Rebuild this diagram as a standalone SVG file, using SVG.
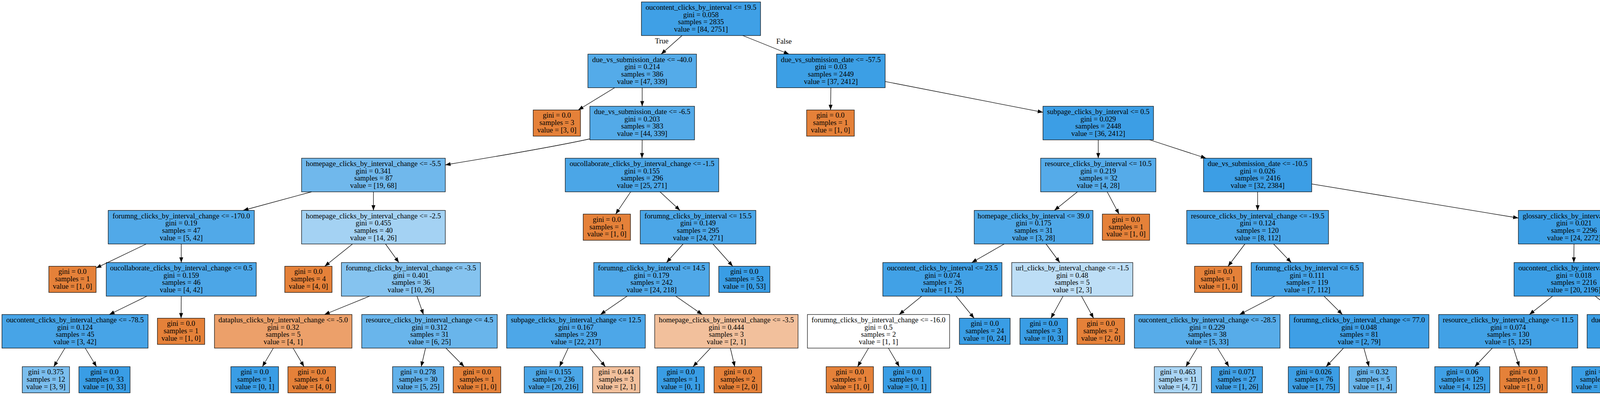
<svg xmlns="http://www.w3.org/2000/svg" width="5012" height="1011" viewBox="0 0 5012 1011">
<style>
.box{stroke:#000;stroke-width:1.2}
.o{fill:#e58139}
.b{fill:#399de5}
.t{font-family:"Liberation Serif","Times New Roman",serif;font-size:18.67px;text-anchor:middle;fill:#000}
.e{stroke:#000;stroke-width:1.3;fill:none;marker-end:url(#ah)}
</style>
<defs>
<marker id="ah" markerUnits="userSpaceOnUse" markerWidth="13.3" markerHeight="10" viewBox="0 0 13.3 10" refX="13.3" refY="5" orient="auto" overflow="visible">
<path d="M0,0 L13.3,5 L0,10 z" fill="#000"/>
</marker>
</defs>
<rect width="5012" height="1011" fill="#fff"/>
<g id="nodes">
<g id="n0"><rect class="box" x="1642" y="5" width="305" height="86" fill="#3fa0e6"/><text class="t" y="25"><tspan x="1794.5">oucontent_clicks_by_interval &lt;= 19.5</tspan><tspan x="1794.5" dy="18.67">gini = 0.058</tspan><tspan x="1794.5" dy="18.67">samples = 2835</tspan><tspan x="1794.5" dy="18.67">value = [84, 2751]</tspan></text></g>
<g id="n1"><rect class="box" x="1505" y="138.5" width="278" height="86" fill="#54abe9"/><text class="t" y="158.5"><tspan x="1644">due_vs_submission_date &lt;= -40.0</tspan><tspan x="1644" dy="18.67">gini = 0.214</tspan><tspan x="1644" dy="18.67">samples = 386</tspan><tspan x="1644" dy="18.67">value = [47, 339]</tspan></text></g>
<g id="n2"><rect class="box" x="1988" y="138.5" width="278" height="86" fill="#3c9fe5"/><text class="t" y="158.5"><tspan x="2127">due_vs_submission_date &lt;= -57.5</tspan><tspan x="2127" dy="18.67">gini = 0.03</tspan><tspan x="2127" dy="18.67">samples = 2449</tspan><tspan x="2127" dy="18.67">value = [37, 2412]</tspan></text></g>
<g id="n3"><rect class="box o" x="1365" y="281.5" width="121" height="67"/><text class="t" y="301.33"><tspan x="1425.5">gini = 0.0</tspan><tspan x="1425.5" dy="18.67">samples = 3</tspan><tspan x="1425.5" dy="18.67">value = [3, 0]</tspan></text></g>
<g id="n4"><rect class="box" x="1510" y="272" width="268" height="86" fill="#53aae8"/><text class="t" y="292"><tspan x="1644">due_vs_submission_date &lt;= -6.5</tspan><tspan x="1644" dy="18.67">gini = 0.203</tspan><tspan x="1644" dy="18.67">samples = 383</tspan><tspan x="1644" dy="18.67">value = [44, 339]</tspan></text></g>
<g id="n5"><rect class="box o" x="2065" y="281.5" width="122" height="67"/><text class="t" y="301.33"><tspan x="2126">gini = 0.0</tspan><tspan x="2126" dy="18.67">samples = 1</tspan><tspan x="2126" dy="18.67">value = [1, 0]</tspan></text></g>
<g id="n6"><rect class="box" x="2670" y="272" width="283" height="86" fill="#3c9ee5"/><text class="t" y="292"><tspan x="2811.5">subpage_clicks_by_interval &lt;= 0.5</tspan><tspan x="2811.5" dy="18.67">gini = 0.029</tspan><tspan x="2811.5" dy="18.67">samples = 2448</tspan><tspan x="2811.5" dy="18.67">value = [36, 2412]</tspan></text></g>
<g id="n7"><rect class="box" x="772" y="405" width="368" height="86" fill="#70b8ec"/><text class="t" y="425"><tspan x="956">homepage_clicks_by_interval_change &lt;= -5.5</tspan><tspan x="956" dy="18.67">gini = 0.341</tspan><tspan x="956" dy="18.67">samples = 87</tspan><tspan x="956" dy="18.67">value = [19, 68]</tspan></text></g>
<g id="n8"><rect class="box" x="1447" y="405" width="393" height="86" fill="#4ba6e7"/><text class="t" y="425"><tspan x="1643.5">oucollaborate_clicks_by_interval_change &lt;= -1.5</tspan><tspan x="1643.5" dy="18.67">gini = 0.155</tspan><tspan x="1643.5" dy="18.67">samples = 296</tspan><tspan x="1643.5" dy="18.67">value = [25, 271]</tspan></text></g>
<g id="n9"><rect class="box" x="2664" y="405" width="295" height="86" fill="#55abe9"/><text class="t" y="425"><tspan x="2811.5">resource_clicks_by_interval &lt;= 10.5</tspan><tspan x="2811.5" dy="18.67">gini = 0.219</tspan><tspan x="2811.5" dy="18.67">samples = 32</tspan><tspan x="2811.5" dy="18.67">value = [4, 28]</tspan></text></g>
<g id="n10"><rect class="box" x="3081" y="405" width="277" height="86" fill="#3c9ee5"/><text class="t" y="425"><tspan x="3219.5">due_vs_submission_date &lt;= -10.5</tspan><tspan x="3219.5" dy="18.67">gini = 0.026</tspan><tspan x="3219.5" dy="18.67">samples = 2416</tspan><tspan x="3219.5" dy="18.67">value = [32, 2384]</tspan></text></g>
<g id="n11"><rect class="box" x="277" y="538.5" width="374" height="86" fill="#51a9e8"/><text class="t" y="558.5"><tspan x="464">forumng_clicks_by_interval_change &lt;= -170.0</tspan><tspan x="464" dy="18.67">gini = 0.19</tspan><tspan x="464" dy="18.67">samples = 47</tspan><tspan x="464" dy="18.67">value = [5, 42]</tspan></text></g>
<g id="n12"><rect class="box" x="772" y="538.5" width="368" height="86" fill="#a4d2f3"/><text class="t" y="558.5"><tspan x="956">homepage_clicks_by_interval_change &lt;= -2.5</tspan><tspan x="956" dy="18.67">gini = 0.455</tspan><tspan x="956" dy="18.67">samples = 40</tspan><tspan x="956" dy="18.67">value = [14, 26]</tspan></text></g>
<g id="n13"><rect class="box o" x="1493" y="548" width="121" height="67"/><text class="t" y="567.83"><tspan x="1553.5">gini = 0.0</tspan><tspan x="1553.5" dy="18.67">samples = 1</tspan><tspan x="1553.5" dy="18.67">value = [1, 0]</tspan></text></g>
<g id="n14"><rect class="box" x="1639" y="538.5" width="296" height="86" fill="#4ba6e7"/><text class="t" y="558.5"><tspan x="1787">forumng_clicks_by_interval &lt;= 15.5</tspan><tspan x="1787" dy="18.67">gini = 0.149</tspan><tspan x="1787" dy="18.67">samples = 295</tspan><tspan x="1787" dy="18.67">value = [24, 271]</tspan></text></g>
<g id="n15"><rect class="box" x="2494" y="538.5" width="304" height="86" fill="#4ea8e8"/><text class="t" y="558.5"><tspan x="2646">homepage_clicks_by_interval &lt;= 39.0</tspan><tspan x="2646" dy="18.67">gini = 0.175</tspan><tspan x="2646" dy="18.67">samples = 31</tspan><tspan x="2646" dy="18.67">value = [3, 28]</tspan></text></g>
<g id="n16"><rect class="box o" x="2822" y="548" width="121" height="67"/><text class="t" y="567.83"><tspan x="2882.5">gini = 0.0</tspan><tspan x="2882.5" dy="18.67">samples = 1</tspan><tspan x="2882.5" dy="18.67">value = [1, 0]</tspan></text></g>
<g id="n17"><rect class="box" x="3038" y="538.5" width="363" height="86" fill="#47a4e7"/><text class="t" y="558.5"><tspan x="3219.5">resource_clicks_by_interval_change &lt;= -19.5</tspan><tspan x="3219.5" dy="18.67">gini = 0.124</tspan><tspan x="3219.5" dy="18.67">samples = 120</tspan><tspan x="3219.5" dy="18.67">value = [8, 112]</tspan></text></g>
<g id="n18"><rect class="box" x="3887" y="538.5" width="285" height="86" fill="#3b9ee5"/><text class="t" y="558.5"><tspan x="4029.5">glossary_clicks_by_interval &lt;= 0.5</tspan><tspan x="4029.5" dy="18.67">gini = 0.021</tspan><tspan x="4029.5" dy="18.67">samples = 2296</tspan><tspan x="4029.5" dy="18.67">value = [24, 2272]</tspan></text></g>
<g id="n19"><rect class="box o" x="125" y="681.5" width="121" height="67"/><text class="t" y="701.33"><tspan x="185.5">gini = 0.0</tspan><tspan x="185.5" dy="18.67">samples = 1</tspan><tspan x="185.5" dy="18.67">value = [1, 0]</tspan></text></g>
<g id="n20"><rect class="box" x="272" y="672" width="384" height="86" fill="#4ca6e7"/><text class="t" y="692"><tspan x="464">oucollaborate_clicks_by_interval_change &lt;= 0.5</tspan><tspan x="464" dy="18.67">gini = 0.159</tspan><tspan x="464" dy="18.67">samples = 46</tspan><tspan x="464" dy="18.67">value = [4, 42]</tspan></text></g>
<g id="n21"><rect class="box o" x="729" y="681.5" width="121" height="67"/><text class="t" y="701.33"><tspan x="789.5">gini = 0.0</tspan><tspan x="789.5" dy="18.67">samples = 4</tspan><tspan x="789.5" dy="18.67">value = [4, 0]</tspan></text></g>
<g id="n22"><rect class="box" x="874" y="672" width="356" height="86" fill="#85c3ef"/><text class="t" y="692"><tspan x="1052">forumng_clicks_by_interval_change &lt;= -3.5</tspan><tspan x="1052" dy="18.67">gini = 0.401</tspan><tspan x="1052" dy="18.67">samples = 36</tspan><tspan x="1052" dy="18.67">value = [10, 26]</tspan></text></g>
<g id="n23"><rect class="box" x="1520" y="672" width="296" height="86" fill="#4fa8e8"/><text class="t" y="692"><tspan x="1668">forumng_clicks_by_interval &lt;= 14.5</tspan><tspan x="1668" dy="18.67">gini = 0.179</tspan><tspan x="1668" dy="18.67">samples = 242</tspan><tspan x="1668" dy="18.67">value = [24, 218]</tspan></text></g>
<g id="n24"><rect class="box b" x="1840" y="681.5" width="131" height="67"/><text class="t" y="701.33"><tspan x="1905.5">gini = 0.0</tspan><tspan x="1905.5" dy="18.67">samples = 53</tspan><tspan x="1905.5" dy="18.67">value = [0, 53]</tspan></text></g>
<g id="n25"><rect class="box" x="2260" y="672" width="305" height="86" fill="#41a1e6"/><text class="t" y="692"><tspan x="2412.5">oucontent_clicks_by_interval &lt;= 23.5</tspan><tspan x="2412.5" dy="18.67">gini = 0.074</tspan><tspan x="2412.5" dy="18.67">samples = 26</tspan><tspan x="2412.5" dy="18.67">value = [1, 25]</tspan></text></g>
<g id="n26"><rect class="box" x="2590" y="672" width="310" height="86" fill="#bddef6"/><text class="t" y="692"><tspan x="2745">url_clicks_by_interval_change &lt;= -1.5</tspan><tspan x="2745" dy="18.67">gini = 0.48</tspan><tspan x="2745" dy="18.67">samples = 5</tspan><tspan x="2745" dy="18.67">value = [2, 3]</tspan></text></g>
<g id="n27"><rect class="box o" x="3058" y="681.5" width="121" height="67"/><text class="t" y="701.33"><tspan x="3118.5">gini = 0.0</tspan><tspan x="3118.5" dy="18.67">samples = 1</tspan><tspan x="3118.5" dy="18.67">value = [1, 0]</tspan></text></g>
<g id="n28"><rect class="box" x="3203" y="672" width="287" height="86" fill="#45a3e7"/><text class="t" y="692"><tspan x="3346.5">forumng_clicks_by_interval &lt;= 6.5</tspan><tspan x="3346.5" dy="18.67">gini = 0.111</tspan><tspan x="3346.5" dy="18.67">samples = 119</tspan><tspan x="3346.5" dy="18.67">value = [7, 112]</tspan></text></g>
<g id="n29"><rect class="box" x="3876" y="672" width="306" height="86" fill="#3b9ee5"/><text class="t" y="692"><tspan x="4029">oucontent_clicks_by_interval &lt;= 29.5</tspan><tspan x="4029" dy="18.67">gini = 0.018</tspan><tspan x="4029" dy="18.67">samples = 2216</tspan><tspan x="4029" dy="18.67">value = [20, 2196]</tspan></text></g>
<g id="n30"><rect class="box" x="4382" y="672" width="267" height="86" fill="#43a2e6"/><text class="t" y="692"><tspan x="4515.5">due_vs_submission_date &lt;= -2.5</tspan><tspan x="4515.5" dy="18.67">gini = 0.095</tspan><tspan x="4515.5" dy="18.67">samples = 80</tspan><tspan x="4515.5" dy="18.67">value = [4, 76]</tspan></text></g>
<g id="n31"><rect class="box" x="5" y="805" width="374" height="86" fill="#47a4e7"/><text class="t" y="825"><tspan x="192">oucontent_clicks_by_interval_change &lt;= -78.5</tspan><tspan x="192" dy="18.67">gini = 0.124</tspan><tspan x="192" dy="18.67">samples = 45</tspan><tspan x="192" dy="18.67">value = [3, 42]</tspan></text></g>
<g id="n32"><rect class="box o" x="403" y="814.5" width="121" height="67"/><text class="t" y="834.33"><tspan x="463.5">gini = 0.0</tspan><tspan x="463.5" dy="18.67">samples = 1</tspan><tspan x="463.5" dy="18.67">value = [1, 0]</tspan></text></g>
<g id="n33"><rect class="box" x="549" y="805" width="352" height="86" fill="#eca06a"/><text class="t" y="825"><tspan x="725">dataplus_clicks_by_interval_change &lt;= -5.0</tspan><tspan x="725" dy="18.67">gini = 0.32</tspan><tspan x="725" dy="18.67">samples = 5</tspan><tspan x="725" dy="18.67">value = [4, 1]</tspan></text></g>
<g id="n34"><rect class="box" x="926" y="805" width="347" height="86" fill="#69b5eb"/><text class="t" y="825"><tspan x="1099.5">resource_clicks_by_interval_change &lt;= 4.5</tspan><tspan x="1099.5" dy="18.67">gini = 0.312</tspan><tspan x="1099.5" dy="18.67">samples = 31</tspan><tspan x="1099.5" dy="18.67">value = [6, 25]</tspan></text></g>
<g id="n35"><rect class="box" x="1297" y="805" width="355" height="86" fill="#4da7e8"/><text class="t" y="825"><tspan x="1474.5">subpage_clicks_by_interval_change &lt;= 12.5</tspan><tspan x="1474.5" dy="18.67">gini = 0.167</tspan><tspan x="1474.5" dy="18.67">samples = 239</tspan><tspan x="1474.5" dy="18.67">value = [22, 217]</tspan></text></g>
<g id="n36"><rect class="box" x="1676" y="805" width="367" height="86" fill="#f2c09c"/><text class="t" y="825"><tspan x="1859.5">homepage_clicks_by_interval_change &lt;= -3.5</tspan><tspan x="1859.5" dy="18.67">gini = 0.444</tspan><tspan x="1859.5" dy="18.67">samples = 3</tspan><tspan x="1859.5" dy="18.67">value = [2, 1]</tspan></text></g>
<g id="n37"><rect class="box" x="2067" y="805" width="364" height="86" fill="#ffffff"/><text class="t" y="825"><tspan x="2249">forumng_clicks_by_interval_change &lt;= -16.0</tspan><tspan x="2249" dy="18.67">gini = 0.5</tspan><tspan x="2249" dy="18.67">samples = 2</tspan><tspan x="2249" dy="18.67">value = [1, 1]</tspan></text></g>
<g id="n38"><rect class="box b" x="2456" y="814.5" width="130" height="67"/><text class="t" y="834.33"><tspan x="2521">gini = 0.0</tspan><tspan x="2521" dy="18.67">samples = 24</tspan><tspan x="2521" dy="18.67">value = [0, 24]</tspan></text></g>
<g id="n39"><rect class="box b" x="2611" y="814.5" width="122" height="67"/><text class="t" y="834.33"><tspan x="2672">gini = 0.0</tspan><tspan x="2672" dy="18.67">samples = 3</tspan><tspan x="2672" dy="18.67">value = [0, 3]</tspan></text></g>
<g id="n40"><rect class="box o" x="2757" y="814.5" width="122" height="67"/><text class="t" y="834.33"><tspan x="2818">gini = 0.0</tspan><tspan x="2818" dy="18.67">samples = 2</tspan><tspan x="2818" dy="18.67">value = [2, 0]</tspan></text></g>
<g id="n41"><rect class="box" x="2904" y="805" width="373" height="86" fill="#57ace9"/><text class="t" y="825"><tspan x="3090.5">oucontent_clicks_by_interval_change &lt;= -28.5</tspan><tspan x="3090.5" dy="18.67">gini = 0.229</tspan><tspan x="3090.5" dy="18.67">samples = 38</tspan><tspan x="3090.5" dy="18.67">value = [5, 33]</tspan></text></g>
<g id="n42"><rect class="box" x="3301" y="805" width="357" height="86" fill="#3e9fe6"/><text class="t" y="825"><tspan x="3479.5">forumng_clicks_by_interval_change &lt;= 77.0</tspan><tspan x="3479.5" dy="18.67">gini = 0.048</tspan><tspan x="3479.5" dy="18.67">samples = 81</tspan><tspan x="3479.5" dy="18.67">value = [2, 79]</tspan></text></g>
<g id="n43"><rect class="box" x="3683" y="805" width="356" height="86" fill="#41a1e6"/><text class="t" y="825"><tspan x="3861">resource_clicks_by_interval_change &lt;= 11.5</tspan><tspan x="3861" dy="18.67">gini = 0.074</tspan><tspan x="3861" dy="18.67">samples = 130</tspan><tspan x="3861" dy="18.67">value = [5, 125]</tspan></text></g>
<g id="n44"><rect class="box" x="4063" y="805" width="271" height="86" fill="#3a9ee5"/><text class="t" y="825"><tspan x="4198.5">due_vs_submission_date &lt;= 31.5</tspan><tspan x="4198.5" dy="18.67">gini = 0.014</tspan><tspan x="4198.5" dy="18.67">samples = 2086</tspan><tspan x="4198.5" dy="18.67">value = [15, 2071]</tspan></text></g>
<g id="n45"><rect class="box" x="4359" y="805" width="314" height="86" fill="#61b1ea"/><text class="t" y="825"><tspan x="4516">oucontent_clicks_by_interval &lt;= 250.5</tspan><tspan x="4516" dy="18.67">gini = 0.278</tspan><tspan x="4516" dy="18.67">samples = 18</tspan><tspan x="4516" dy="18.67">value = [3, 15]</tspan></text></g>
<g id="n46"><rect class="box" x="4698" y="805" width="309" height="86" fill="#3c9fe5"/><text class="t" y="825"><tspan x="4852.5">homepage_clicks_by_interval &lt;= 20.5</tspan><tspan x="4852.5" dy="18.67">gini = 0.032</tspan><tspan x="4852.5" dy="18.67">samples = 62</tspan><tspan x="4852.5" dy="18.67">value = [1, 61]</tspan></text></g>
<g id="n47"><rect class="box" x="57" y="938.5" width="121" height="67" fill="#7bbeee"/><text class="t" y="958.33"><tspan x="117.5">gini = 0.375</tspan><tspan x="117.5" dy="18.67">samples = 12</tspan><tspan x="117.5" dy="18.67">value = [3, 9]</tspan></text></g>
<g id="n48"><rect class="box b" x="202" y="938.5" width="131" height="67"/><text class="t" y="958.33"><tspan x="267.5">gini = 0.0</tspan><tspan x="267.5" dy="18.67">samples = 33</tspan><tspan x="267.5" dy="18.67">value = [0, 33]</tspan></text></g>
<g id="n49"><rect class="box b" x="591" y="938.5" width="122" height="67"/><text class="t" y="958.33"><tspan x="652">gini = 0.0</tspan><tspan x="652" dy="18.67">samples = 1</tspan><tspan x="652" dy="18.67">value = [0, 1]</tspan></text></g>
<g id="n50"><rect class="box o" x="737" y="938.5" width="122" height="67"/><text class="t" y="958.33"><tspan x="798">gini = 0.0</tspan><tspan x="798" dy="18.67">samples = 4</tspan><tspan x="798" dy="18.67">value = [4, 0]</tspan></text></g>
<g id="n51"><rect class="box" x="1005" y="938.5" width="131" height="67" fill="#61b1ea"/><text class="t" y="958.33"><tspan x="1070.5">gini = 0.278</tspan><tspan x="1070.5" dy="18.67">samples = 30</tspan><tspan x="1070.5" dy="18.67">value = [5, 25]</tspan></text></g>
<g id="n52"><rect class="box o" x="1160" y="938.5" width="122" height="67"/><text class="t" y="958.33"><tspan x="1221">gini = 0.0</tspan><tspan x="1221" dy="18.67">samples = 1</tspan><tspan x="1221" dy="18.67">value = [1, 0]</tspan></text></g>
<g id="n53"><rect class="box" x="1342" y="938.5" width="150" height="67" fill="#4ba6e7"/><text class="t" y="958.33"><tspan x="1417">gini = 0.155</tspan><tspan x="1417" dy="18.67">samples = 236</tspan><tspan x="1417" dy="18.67">value = [20, 216]</tspan></text></g>
<g id="n54"><rect class="box" x="1517" y="938.5" width="121" height="67" fill="#f2c09c"/><text class="t" y="958.33"><tspan x="1577.5">gini = 0.444</tspan><tspan x="1577.5" dy="18.67">samples = 3</tspan><tspan x="1577.5" dy="18.67">value = [2, 1]</tspan></text></g>
<g id="n55"><rect class="box b" x="1682" y="938.5" width="121" height="67"/><text class="t" y="958.33"><tspan x="1742.5">gini = 0.0</tspan><tspan x="1742.5" dy="18.67">samples = 1</tspan><tspan x="1742.5" dy="18.67">value = [0, 1]</tspan></text></g>
<g id="n56"><rect class="box o" x="1828" y="938.5" width="122" height="67"/><text class="t" y="958.33"><tspan x="1889">gini = 0.0</tspan><tspan x="1889" dy="18.67">samples = 2</tspan><tspan x="1889" dy="18.67">value = [2, 0]</tspan></text></g>
<g id="n57"><rect class="box o" x="2115" y="938.5" width="121" height="67"/><text class="t" y="958.33"><tspan x="2175.5">gini = 0.0</tspan><tspan x="2175.5" dy="18.67">samples = 1</tspan><tspan x="2175.5" dy="18.67">value = [1, 0]</tspan></text></g>
<g id="n58"><rect class="box b" x="2261" y="938.5" width="122" height="67"/><text class="t" y="958.33"><tspan x="2322">gini = 0.0</tspan><tspan x="2322" dy="18.67">samples = 1</tspan><tspan x="2322" dy="18.67">value = [0, 1]</tspan></text></g>
<g id="n59"><rect class="box" x="2955" y="938.5" width="121" height="67" fill="#aad5f4"/><text class="t" y="958.33"><tspan x="3015.5">gini = 0.463</tspan><tspan x="3015.5" dy="18.67">samples = 11</tspan><tspan x="3015.5" dy="18.67">value = [4, 7]</tspan></text></g>
<g id="n60"><rect class="box" x="3101" y="938.5" width="131" height="67" fill="#41a1e6"/><text class="t" y="958.33"><tspan x="3166.5">gini = 0.071</tspan><tspan x="3166.5" dy="18.67">samples = 27</tspan><tspan x="3166.5" dy="18.67">value = [1, 26]</tspan></text></g>
<g id="n61"><rect class="box" x="3298" y="938.5" width="131" height="67" fill="#3c9ee5"/><text class="t" y="958.33"><tspan x="3363.5">gini = 0.026</tspan><tspan x="3363.5" dy="18.67">samples = 76</tspan><tspan x="3363.5" dy="18.67">value = [1, 75]</tspan></text></g>
<g id="n62"><rect class="box" x="3453" y="938.5" width="122" height="67" fill="#6ab6ec"/><text class="t" y="958.33"><tspan x="3514">gini = 0.32</tspan><tspan x="3514" dy="18.67">samples = 5</tspan><tspan x="3514" dy="18.67">value = [1, 4]</tspan></text></g>
<g id="n63"><rect class="box" x="3673" y="938.5" width="141" height="67" fill="#3fa0e6"/><text class="t" y="958.33"><tspan x="3743.5">gini = 0.06</tspan><tspan x="3743.5" dy="18.67">samples = 129</tspan><tspan x="3743.5" dy="18.67">value = [4, 125]</tspan></text></g>
<g id="n64"><rect class="box o" x="3839" y="938.5" width="122" height="67"/><text class="t" y="958.33"><tspan x="3900">gini = 0.0</tspan><tspan x="3900" dy="18.67">samples = 1</tspan><tspan x="3900" dy="18.67">value = [1, 0]</tspan></text></g>
<g id="n65"><rect class="box" x="4024" y="938.5" width="159" height="67" fill="#3a9ee5"/><text class="t" y="958.33"><tspan x="4103.5">gini = 0.013</tspan><tspan x="4103.5" dy="18.67">samples = 2074</tspan><tspan x="4103.5" dy="18.67">value = [14, 2060]</tspan></text></g>
<g id="n66"><rect class="box" x="4208" y="938.5" width="131" height="67" fill="#4ba6e7"/><text class="t" y="958.33"><tspan x="4273.5">gini = 0.153</tspan><tspan x="4273.5" dy="18.67">samples = 12</tspan><tspan x="4273.5" dy="18.67">value = [1, 11]</tspan></text></g>
<g id="n67"><rect class="box" x="4388" y="938.5" width="131" height="67" fill="#46a3e7"/><text class="t" y="958.33"><tspan x="4453.5">gini = 0.117</tspan><tspan x="4453.5" dy="18.67">samples = 16</tspan><tspan x="4453.5" dy="18.67">value = [1, 15]</tspan></text></g>
<g id="n68"><rect class="box o" x="4544" y="938.5" width="121" height="67"/><text class="t" y="958.33"><tspan x="4604.5">gini = 0.0</tspan><tspan x="4604.5" dy="18.67">samples = 2</tspan><tspan x="4604.5" dy="18.67">value = [2, 0]</tspan></text></g>
<g id="n69"><rect class="box" x="4702" y="938.5" width="122" height="67" fill="#7bbeee"/><text class="t" y="958.33"><tspan x="4763">gini = 0.375</tspan><tspan x="4763" dy="18.67">samples = 4</tspan><tspan x="4763" dy="18.67">value = [1, 3]</tspan></text></g>
<g id="n70"><rect class="box b" x="4848" y="938.5" width="130" height="67"/><text class="t" y="958.33"><tspan x="4913">gini = 0.0</tspan><tspan x="4913" dy="18.67">samples = 58</tspan><tspan x="4913" dy="18.67">value = [0, 58]</tspan></text></g>
</g>
<g id="connectors">
<line class="e" x1="1746" y1="91" x2="1692.5" y2="138.5"/>
<line class="e" x1="1901.6" y1="91" x2="2019.9" y2="138.5"/>
<text class="t" x="1694" y="111">True</text>
<text class="t" x="2007" y="112">False</text>
<line class="e" x1="1573.6" y1="224.5" x2="1480.3" y2="281.5"/>
<line class="e" x1="1644" y1="224.5" x2="1644" y2="272"/>
<line class="e" x1="2127" y1="224.5" x2="2126.2" y2="281.5"/>
<line class="e" x1="2266" y1="208.6" x2="2670" y2="287.4"/>
<path class="e" d="M1510,355.5 C1420,375 1250,404 1140,422"/>
<line class="e" x1="1644" y1="358" x2="1643.5" y2="405"/>
<line class="e" x1="2811.5" y1="358" x2="2811.5" y2="405"/>
<line class="e" x1="2943.4" y1="358" x2="3087.6" y2="405"/>
<line class="e" x1="797.5" y1="491" x2="622.5" y2="538.5"/>
<line class="e" x1="956" y1="491" x2="956" y2="538.5"/>
<line class="e" x1="1614.5" y1="491" x2="1576.1" y2="548"/>
<line class="e" x1="1689.7" y1="491" x2="1740.8" y2="538.5"/>
<line class="e" x1="2758.2" y1="491" x2="2699.3" y2="538.5"/>
<line class="e" x1="2834.4" y1="491" x2="2864.7" y2="548"/>
<line class="e" x1="3219.5" y1="491" x2="3219.5" y2="538.5"/>
<line class="e" x1="3358" y1="470.8" x2="3887" y2="558"/>
<line class="e" x1="374.3" y1="624.5" x2="246" y2="686"/>
<line class="e" x1="464" y1="624.5" x2="464" y2="672"/>
<line class="e" x1="902.4" y1="624.5" x2="831.3" y2="681.5"/>
<line class="e" x1="986.9" y1="624.5" x2="1021.1" y2="672"/>
<line class="e" x1="1748.7" y1="624.5" x2="1706.3" y2="672"/>
<line class="e" x1="1825.2" y1="624.5" x2="1875.8" y2="681.5"/>
<line class="e" x1="2570.8" y1="624.5" x2="2487.7" y2="672"/>
<line class="e" x1="2677.9" y1="624.5" x2="2713.1" y2="672"/>
<line class="e" x1="3187" y1="624.5" x2="3143.8" y2="681.5"/>
<line class="e" x1="3260.4" y1="624.5" x2="3305.6" y2="672"/>
<line class="e" x1="4029.5" y1="624.5" x2="4029" y2="672"/>
<line class="e" x1="4172" y1="620.6" x2="4382" y2="678.3"/>
<line class="e" x1="376.1" y1="758" x2="279.9" y2="805"/>
<line class="e" x1="464" y1="758" x2="463.5" y2="814.5"/>
<line class="e" x1="946.3" y1="758" x2="830.7" y2="805"/>
<line class="e" x1="1067.4" y1="758" x2="1084.1" y2="805"/>
<line class="e" x1="1605.4" y1="758" x2="1537.1" y2="805"/>
<line class="e" x1="1729.9" y1="758" x2="1797.6" y2="805"/>
<line class="e" x1="2359.6" y1="758" x2="2301.9" y2="805"/>
<line class="e" x1="2447.6" y1="758" x2="2493.7" y2="814.5"/>
<line class="e" x1="2721.4" y1="758" x2="2690.4" y2="814.5"/>
<line class="e" x1="2768.6" y1="758" x2="2799.6" y2="814.5"/>
<line class="e" x1="3263.7" y1="758" x2="3173.3" y2="805"/>
<line class="e" x1="3389.5" y1="758" x2="3436.5" y2="805"/>
<line class="e" x1="3974.7" y1="758" x2="3915.3" y2="805"/>
<line class="e" x1="4083.8" y1="758" x2="4143.7" y2="805"/>
<line class="e" x1="4515.5" y1="758" x2="4516" y2="805"/>
<line class="e" x1="4624.5" y1="758" x2="4743.5" y2="805"/>
<line class="e" x1="166.2" y1="891" x2="137.6" y2="938.5"/>
<line class="e" x1="218.2" y1="891" x2="247.1" y2="938.5"/>
<line class="e" x1="699.7" y1="891" x2="671.7" y2="938.5"/>
<line class="e" x1="750.3" y1="891" x2="778.3" y2="938.5"/>
<line class="e" x1="1089.4" y1="891" x2="1078.3" y2="938.5"/>
<line class="e" x1="1141.6" y1="891" x2="1188.2" y2="938.5"/>
<line class="e" x1="1454.6" y1="891" x2="1432.5" y2="938.5"/>
<line class="e" x1="1510.2" y1="891" x2="1549.7" y2="938.5"/>
<line class="e" x1="1818.9" y1="891" x2="1774.1" y2="938.5"/>
<line class="e" x1="1869.7" y1="891" x2="1881" y2="938.5"/>
<line class="e" x1="2223.5" y1="891" x2="2195.4" y2="938.5"/>
<line class="e" x1="2274.3" y1="891" x2="2302.3" y2="938.5"/>
<line class="e" x1="3064.5" y1="891" x2="3035.8" y2="938.5"/>
<line class="e" x1="3116.9" y1="891" x2="3146" y2="938.5"/>
<line class="e" x1="3439.3" y1="891" x2="3394.8" y2="938.5"/>
<line class="e" x1="3491.5" y1="891" x2="3504.7" y2="938.5"/>
<line class="e" x1="3820.3" y1="891" x2="3775.3" y2="938.5"/>
<line class="e" x1="3874.5" y1="891" x2="3889.5" y2="938.5"/>
<line class="e" x1="4165.6" y1="891" x2="4129.2" y2="938.5"/>
<line class="e" x1="4224.5" y1="891" x2="4253.2" y2="938.5"/>
<line class="e" x1="4494.3" y1="891" x2="4470.4" y2="938.5"/>
<line class="e" x1="4546.7" y1="891" x2="4580.6" y2="938.5"/>
<line class="e" x1="4821.5" y1="891" x2="4787.2" y2="938.5"/>
<line class="e" x1="4873.5" y1="891" x2="4896.7" y2="938.5"/>
</g>
</svg>
